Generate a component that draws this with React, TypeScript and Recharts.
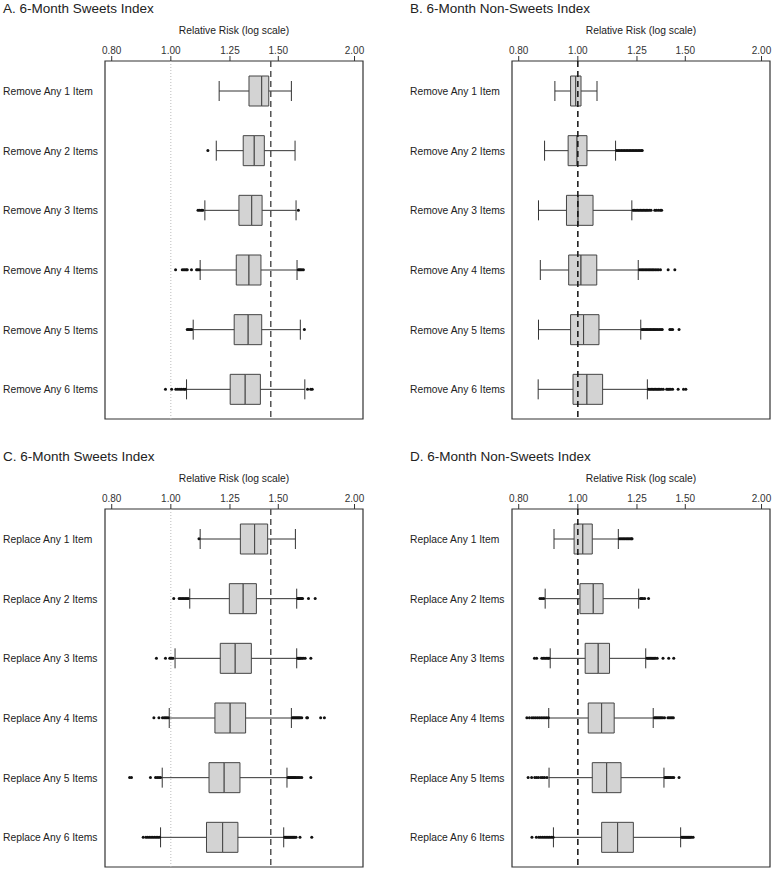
import React from "react";
import {
  Bar,
  ComposedChart,
  ReferenceArea,
  ReferenceDot,
  ReferenceLine,
  XAxis,
  YAxis,
} from "recharts";

const removeLabels = [
  "Remove Any 1 Item",
  "Remove Any 2 Items",
  "Remove Any 3 Items",
  "Remove Any 4 Items",
  "Remove Any 5 Items",
  "Remove Any 6 Items",
];
const replaceLabels = [
  "Replace Any 1 Item",
  "Replace Any 2 Items",
  "Replace Any 3 Items",
  "Replace Any 4 Items",
  "Replace Any 5 Items",
  "Replace Any 6 Items",
];
const riskTicks = [0.8, 1, 1.25, 1.5, 2];

// A. sweets, remove
const aLow = [1.2, 1.187, 1.137, 1.117, 1.088, 1.061];
const aQ1 = [1.343, 1.314, 1.293, 1.28, 1.27, 1.251];
const aMed = [1.409, 1.37, 1.357, 1.343, 1.339, 1.324];
const aQ3 = [1.447, 1.423, 1.411, 1.405, 1.409, 1.402];
const aHigh = [1.576, 1.598, 1.604, 1.61, 1.63, 1.658];
const aOut = [
  [],
  [1.15],
  [1.108, 1.115, 1.122, 1.128, 1.618],
  [1.018, 1.044, 1.05, 1.055, 1.06, 1.064, 1.081, 1.102, 1.107, 1.113, 1.618, 1.625, 1.632, 1.64, 1.649],
  [1.064, 1.07, 1.076, 1.082, 1.655],
  [0.98, 1.003, 1.019, 1.027, 1.035, 1.042, 1.05, 1.056, 1.675, 1.695, 1.705],
];

// B. non-sweets, remove
const bLow = [0.917, 0.882, 0.862, 0.868, 0.862, 0.861];
const bQ1 = [0.973, 0.964, 0.958, 0.966, 0.973, 0.982];
const bMed = [0.992, 0.997, 1.001, 1.012, 1.022, 1.035];
const bQ3 = [1.012, 1.035, 1.059, 1.074, 1.083, 1.098];
const bHigh = [1.075, 1.153, 1.226, 1.256, 1.268, 1.3];
const bOut = [
  [],
  [1.158, 1.165, 1.172, 1.179, 1.186, 1.193, 1.2, 1.207, 1.214, 1.221, 1.228, 1.235, 1.242, 1.249, 1.256, 1.263, 1.27, 1.275],
  [1.232, 1.239, 1.246, 1.253, 1.26, 1.267, 1.274, 1.281, 1.288, 1.295, 1.302, 1.31, 1.318, 1.337, 1.345, 1.355, 1.365, 1.372],
  [1.262, 1.269, 1.276, 1.283, 1.29, 1.297, 1.304, 1.311, 1.318, 1.325, 1.332, 1.34, 1.348, 1.356, 1.366, 1.406, 1.442],
  [1.274, 1.281, 1.288, 1.295, 1.302, 1.309, 1.316, 1.323, 1.33, 1.337, 1.344, 1.352, 1.36, 1.368, 1.375, 1.415, 1.422, 1.43, 1.465],
  [1.306, 1.313, 1.32, 1.327, 1.334, 1.341, 1.348, 1.355, 1.362, 1.37, 1.38, 1.398, 1.405, 1.412, 1.42, 1.43, 1.46, 1.49, 1.503],
];

// C. sweets, replace
const cLow = [1.117, 1.074, 1.016, 0.994, 0.968, 0.962];
const cQ1 = [1.3, 1.247, 1.205, 1.181, 1.155, 1.144];
const cMed = [1.372, 1.314, 1.275, 1.251, 1.223, 1.216];
const cQ3 = [1.441, 1.381, 1.355, 1.326, 1.298, 1.288];
const cHigh = [1.6, 1.608, 1.608, 1.576, 1.55, 1.531];
const cOut = [
  [1.112],
  [1.011, 1.032, 1.038, 1.044, 1.05, 1.056, 1.062, 1.068, 1.614, 1.62, 1.626, 1.632, 1.638, 1.644, 1.681, 1.724],
  [0.947, 0.98, 0.996, 1.002, 1.008, 1.614, 1.62, 1.626, 1.632, 1.64, 1.648, 1.66, 1.696],
  [0.938, 0.956, 0.969, 0.975, 0.98, 0.985, 0.99, 1.582, 1.588, 1.594, 1.6, 1.606, 1.612, 1.618, 1.624, 1.63, 1.639, 1.67, 1.675, 1.76, 1.785],
  [0.856, 0.862, 0.926, 0.944, 0.95, 0.956, 0.962, 1.556, 1.562, 1.568, 1.574, 1.58, 1.586, 1.592, 1.598, 1.604, 1.612, 1.62, 1.628, 1.639, 1.696],
  [0.901, 0.91, 0.916, 0.922, 0.928, 0.934, 0.94, 0.946, 0.952, 0.958, 1.536, 1.542, 1.548, 1.554, 1.56, 1.566, 1.572, 1.578, 1.584, 1.59, 1.596, 1.604, 1.628, 1.702],
];

// D. non-sweets, replace
const dLow = [0.914, 0.884, 0.901, 0.896, 0.897, 0.912];
const dQ1 = [0.986, 1.008, 1.028, 1.04, 1.056, 1.094];
const dMed = [1.019, 1.06, 1.08, 1.094, 1.115, 1.162];
const dQ3 = [1.056, 1.1, 1.127, 1.147, 1.177, 1.233];
const dHigh = [1.165, 1.258, 1.292, 1.329, 1.384, 1.474];
const dOut = [
  [1.17, 1.176, 1.182, 1.188, 1.194, 1.2, 1.206, 1.212, 1.218, 1.224, 1.227],
  [0.867, 0.873, 0.879, 1.266, 1.272, 1.278, 1.287, 1.306],
  [0.849, 0.856, 0.873, 0.878, 0.883, 0.888, 0.893, 0.897, 1.298, 1.304, 1.31, 1.316, 1.322, 1.328, 1.334, 1.34, 1.349, 1.379, 1.409, 1.436],
  [0.825, 0.833, 0.841, 0.847, 0.853, 0.859, 0.865, 0.871, 0.877, 0.883, 0.889, 0.895, 1.335, 1.341, 1.347, 1.353, 1.359, 1.365, 1.371, 1.378, 1.387, 1.405, 1.412, 1.42, 1.427, 1.434],
  [0.829, 0.84, 0.85, 0.856, 0.862, 0.87, 0.876, 0.882, 0.89, 1.389, 1.395, 1.401, 1.407, 1.413, 1.42, 1.428, 1.436, 1.465],
  [0.841, 0.855, 0.863, 0.869, 0.875, 0.881, 0.887, 0.893, 0.899, 0.905, 0.911, 1.48, 1.486, 1.492, 1.498, 1.504, 1.51, 1.516, 1.522, 1.528, 1.535, 1.545],
];

const sweetsRef = 1.458;
const domain = [0.78, 2.065];

const Whisker = (props: any) => {
  const { x, y, width, height } = props;
  const cy = y + height / 2;
  return (
    <g stroke="#333" strokeWidth={1}>
      <line x1={x} x2={x + width} y1={cy} y2={cy} />
      <line x1={x} x2={x} y1={y} y2={y + height} />
      <line x1={x + width} x2={x + width} y1={y} y2={y + height} />
    </g>
  );
};

const RowLabel = (props: any) => (
  <text x={3} y={props.y} dy={4} textAnchor="start" fontSize={10.3} fill="#222">
    {props.payload.value}
  </text>
);

function Panel({ title, labels, lo, q1, med, q3, hi, out, sweets }: any) {
  const rows = labels.map((name: string, i: number) => ({
    name,
    whisker: [lo[i], hi[i]],
    lowerBox: [q1[i], med[i]],
    upperBox: [med[i], q3[i]],
  }));
  return (
    <div style={{ position: "relative", width: 365, height: 448 }}>
      <div style={{ position: "absolute", left: 3, top: 0, fontSize: 13.5, lineHeight: "17px", color: "#222" }}>
        {title}
      </div>
      <ComposedChart
        layout="vertical"
        width={365}
        height={425}
        data={rows}
        margin={{ top: 0, right: 2, bottom: 6, left: 0 }}
      >
        <XAxis
          type="number"
          scale="log"
          domain={domain}
          allowDataOverflow
          ticks={riskTicks}
          interval={0}
          orientation="top"
          height={61}
          axisLine={false}
          tickSize={5}
          tickMargin={2}
          tickLine={{ stroke: "#333" }}
          tick={{ fontSize: 10, fill: "#333" }}
          tickFormatter={(v: number) => v.toFixed(2)}
          label={{ value: "Relative Risk (log scale)", position: "insideTop", offset: 27, fontSize: 10.3, fill: "#222" }}
        />
        <YAxis type="category" dataKey="name" width={105} axisLine={false} tickLine={false} tick={<RowLabel />} allowDuplicatedCategory={false} />
        <YAxis yAxisId="lb" type="category" dataKey="name" hide />
        <YAxis yAxisId="ub" type="category" dataKey="name" hide />
        <ReferenceArea x1={domain[0]} x2={domain[1]} fill="none" stroke="#333" strokeWidth={1.2} />
        {sweets && <ReferenceLine x={1} stroke="#bbb" strokeDasharray="1 2" />}
        <Bar dataKey="whisker" barSize={20} shape={<Whisker />} isAnimationActive={false} />
        <Bar yAxisId="lb" dataKey="lowerBox" barSize={30} fill="#d3d3d3" stroke="#444" isAnimationActive={false} />
        <Bar yAxisId="ub" dataKey="upperBox" barSize={30} fill="#d3d3d3" stroke="#444" isAnimationActive={false} />
        {out.flatMap((arr: number[], i: number) =>
          arr.map((v, j) => (
            <ReferenceDot key={`o${i}-${j}`} x={v} y={labels[i]} r={1.5} fill="#111" stroke="none" />
          ))
        )}
        <ReferenceLine
          x={sweets ? sweetsRef : 1}
          stroke={sweets ? "#555" : "#111"}
          strokeWidth={1.5}
          strokeDasharray="6 4"
        />
      </ComposedChart>
    </div>
  );
}

export default function App() {
  return (
    <div
      style={{
        position: "absolute",
        left: 0,
        top: 0,
        width: 772,
        height: 870,
        background: "#fff",
        fontFamily: "'Liberation Sans', Arial, sans-serif",
      }}
    >
      <div style={{ position: "absolute", left: 0, top: 0 }}>
        <Panel title="A. 6-Month Sweets Index" labels={removeLabels} lo={aLow} q1={aQ1} med={aMed} q3={aQ3} hi={aHigh} out={aOut} sweets />
      </div>
      <div style={{ position: "absolute", left: 407, top: 0 }}>
        <Panel title="B. 6-Month Non-Sweets Index" labels={removeLabels} lo={bLow} q1={bQ1} med={bMed} q3={bQ3} hi={bHigh} out={bOut} />
      </div>
      <div style={{ position: "absolute", left: 0, top: 448 }}>
        <Panel title="C. 6-Month Sweets Index" labels={replaceLabels} lo={cLow} q1={cQ1} med={cMed} q3={cQ3} hi={cHigh} out={cOut} sweets />
      </div>
      <div style={{ position: "absolute", left: 407, top: 448 }}>
        <Panel title="D. 6-Month Non-Sweets Index" labels={replaceLabels} lo={dLow} q1={dQ1} med={dMed} q3={dQ3} hi={dHigh} out={dOut} />
      </div>
    </div>
  );
}
